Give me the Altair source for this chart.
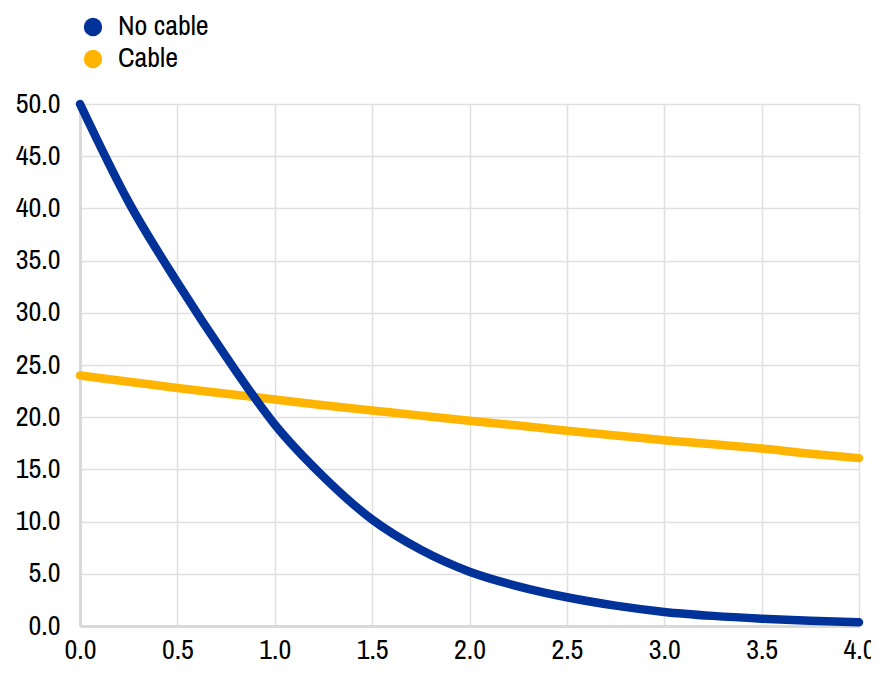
import altair as alt
import pandas as pd

x_vals = [0.0, 0.25, 0.5, 0.75, 1.0, 1.25, 1.5, 1.75, 2.0, 2.25, 2.5, 2.75, 3.0, 3.25, 3.5, 3.75, 4.0]
no_cable = [50.0, 40.6, 32.9, 25.8, 19.3, 14.3, 10.2, 7.3, 5.2, 3.8, 2.75, 1.95, 1.35, 0.97, 0.7, 0.5, 0.35]
cable = [24.0, 23.4, 22.8, 22.25, 21.7, 21.15, 20.65, 20.15, 19.66, 19.2, 18.7, 18.25, 17.8, 17.4, 17.0, 16.5, 16.08]

series_names = ["No cable", "Cable"]
series_colors = ["#003299", "#FFB400"]

df_blue = pd.DataFrame({"x": x_vals, "y": no_cable, "series": "No cable"})
df_yellow = pd.DataFrame({"x": x_vals, "y": cable, "series": "Cable"})
df_all = pd.concat([df_blue, df_yellow], ignore_index=True)

FONT = "Archivo Narrow, Roboto Condensed, Liberation Sans"
FS = 28

color = alt.Color(
    "series:N",
    scale=alt.Scale(domain=series_names, range=series_colors),
    legend=None,
)

fill = alt.Fill(
    "series:N",
    scale=alt.Scale(domain=series_names, range=series_colors),
    legend=alt.Legend(
        title=None,
        orient="none",
        legendX=-1,
        legendY=-91,
        direction="vertical",
        symbolType="circle",
        symbolSize=340,
        symbolStrokeWidth=0,
        symbolOpacity=1,
        labelFontSize=FS,
        labelFont=FONT,
        labelColor="#000000",
        labelOffset=11,
        rowPadding=4,
        padding=0,
    ),
)

axis_common = dict(
    format=".1f",
    title=None,
    labelFontSize=FS,
    labelFont=FONT,
    labelColor="#000000",
    ticks=False,
    domainColor="#d9d9d9",
    domainWidth=3,
    gridColor="#e0e0e0",
    gridWidth=1.5,
)

xenc = alt.X(
    "x:Q",
    scale=alt.Scale(domain=[0, 4], nice=False, zero=False),
    axis=alt.Axis(values=[0, 0.5, 1, 1.5, 2, 2.5, 3, 3.5, 4], labelPadding=10, labelFlush=False, **axis_common),
)
yenc = alt.Y(
    "y:Q",
    scale=alt.Scale(domain=[0, 50], nice=False),
    axis=alt.Axis(values=[0, 5, 10, 15, 20, 25, 30, 35, 40, 45, 50], labelPadding=20, **axis_common),
)

legend_layer = alt.Chart(df_all).mark_circle(opacity=0, size=1).encode(x=xenc, y=yenc, fill=fill)
yellow = alt.Chart(df_yellow).mark_line(strokeWidth=8.5, strokeCap="round", interpolate="monotone").encode(
    x=xenc, y=yenc, color=color
)
blue = alt.Chart(df_blue).mark_line(strokeWidth=8.5, strokeCap="round", interpolate="monotone").encode(
    x=xenc, y=yenc, color=color
)

chart = (
    alt.layer(legend_layer, yellow, blue)
    .resolve_scale(color="independent", fill="independent")
    .properties(
        width=779,
        height=522,
        autosize=alt.AutoSizeParams(type="none"),
        padding={"left": 72, "top": 96, "right": 12, "bottom": 40},
    )
    .configure_view(stroke=None)
    .configure(background="white")
)

chart.save("out.html", embed_options={"renderer": "svg", "actions": False})
